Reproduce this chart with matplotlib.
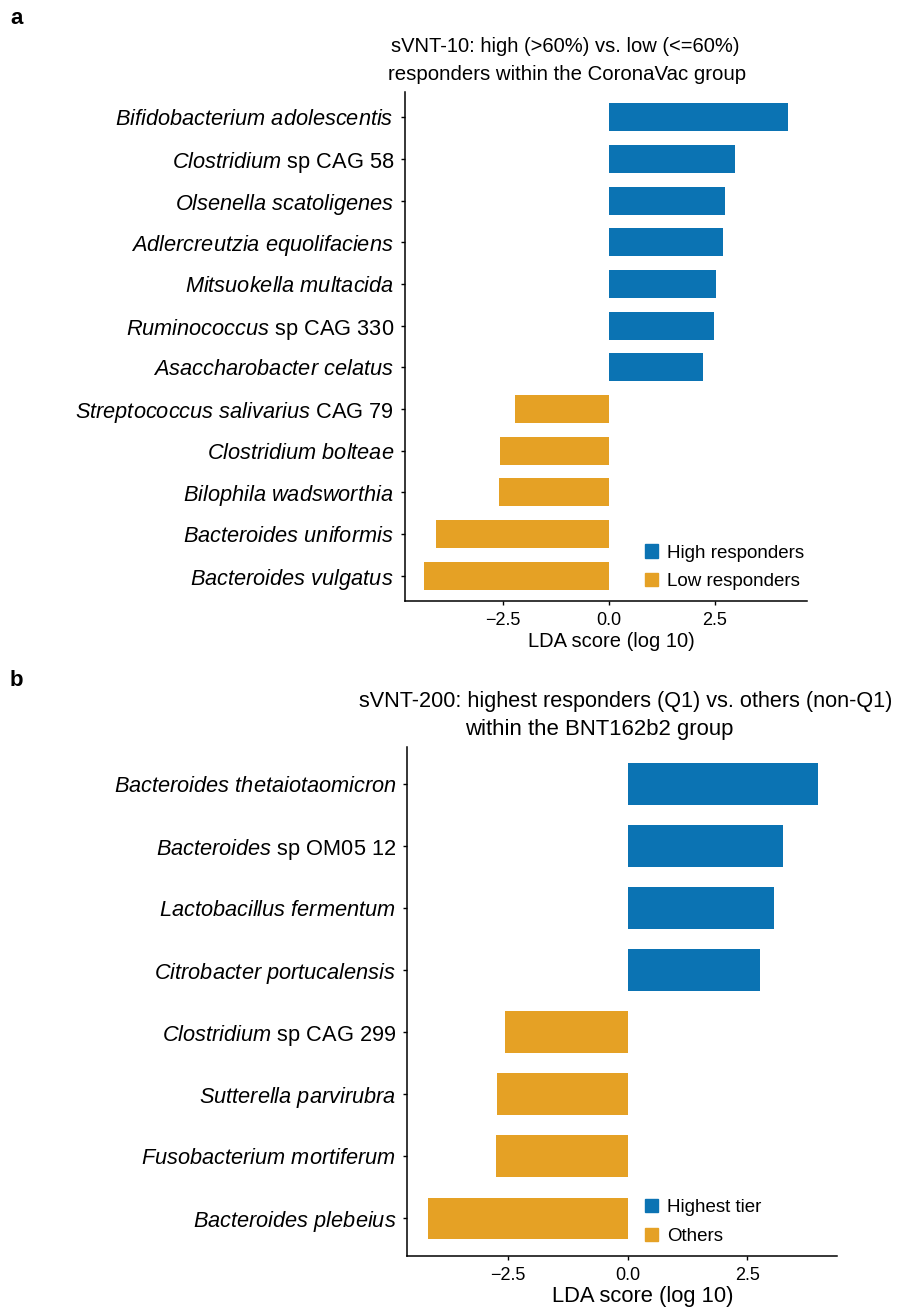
import numpy as np
import matplotlib
matplotlib.use("Agg")
import matplotlib.pyplot as plt
from matplotlib.patches import Patch

plt.rcParams['font.family'] = ['Liberation Sans', 'DejaVu Sans']
plt.rcParams['mathtext.fontset'] = 'custom'
plt.rcParams['mathtext.rm'] = 'Liberation Sans'
plt.rcParams['mathtext.it'] = 'Liberation Sans:italic'

blue = '#0B73B3'
orange = '#E5A125'

# panel a: sVNT-10, CoronaVac
genus_a = ["Bifidobacterium adolescentis", "Clostridium", "Olsenella scatoligenes",
           "Adlercreutzia equolifaciens", "Mitsuokella multacida", "Ruminococcus",
           "Asaccharobacter celatus", "Streptococcus salivarius", "Clostridium bolteae",
           "Bilophila wadsworthia", "Bacteroides uniformis", "Bacteroides vulgatus"]
suffix_a = ["", "sp CAG 58", "", "", "", "sp CAG 330", "", "CAG 79", "", "", "", ""]
lda_a = [4.23, 2.97, 2.75, 2.70, 2.53, 2.48, 2.21, -2.22, -2.57, -2.61, -4.09, -4.37]
legend_a = ["High responders", "Low responders"]

# panel b: sVNT-200, BNT162b2
genus_b = ["Bacteroides thetaiotaomicron", "Bacteroides", "Lactobacillus fermentum",
           "Citrobacter portucalensis", "Clostridium", "Sutterella parvirubra",
           "Fusobacterium mortiferum", "Bacteroides plebeius"]
suffix_b = ["", "sp OM05 12", "", "", "sp CAG 299", "", "", ""]
lda_b = [3.97, 3.25, 3.06, 2.77, -2.57, -2.73, -2.76, -4.17]
legend_b = ["Highest tier", "Others"]

ticks = [-2.5, 0.0, 2.5]


def make_label(genus, suffix):
    it = genus.replace(" ", r"\ ")
    lab = r"$\mathit{" + it + "}$"
    if suffix:
        lab += " " + suffix
    return lab


def draw_panel(ax, genus, suffix, vals, leg_labels, xlim, leg_x):
    y = np.arange(len(vals))
    cols = [blue if v > 0 else orange for v in vals]
    ax.barh(y, vals, height=0.67, color=cols, edgecolor='none')
    ax.set_ylim(len(vals) - 1 + 0.6, -0.6)
    ax.set_xlim(*xlim)
    ax.set_yticks(y)
    ax.set_yticklabels([make_label(g, s) for g, s in zip(genus, suffix)], fontsize=15.7)
    ax.set_xticks(ticks)
    ax.set_xticklabels(['\u22122.5', '0.0', '2.5'], fontsize=13)
    for s in ['top', 'right']:
        ax.spines[s].set_visible(False)
    for s in ['left', 'bottom']:
        ax.spines[s].set_linewidth(1.1)
    ax.tick_params(axis='both', length=3, width=1, color='black', pad=5)
    handles = [Patch(color=blue), Patch(color=orange)]
    ax.legend(handles, leg_labels, loc='lower left', bbox_to_anchor=(leg_x, 0.021),
              frameon=False, fontsize=13.5, handlelength=0.7, handleheight=0.7,
              handletextpad=0.5, labelspacing=0.6, borderpad=0, borderaxespad=0)


fig = plt.figure(figsize=(8.97, 13.07), dpi=100)

ax_a = fig.add_axes([0.4515, 0.5405, 0.4478, 0.3889])
draw_panel(ax_a, genus_a, suffix_a, lda_a, legend_a, (-4.82, 4.67), 0.597)
ax_a.set_xlabel('LDA score (log 10)', fontsize=14.5)
ax_a.xaxis.set_label_coords(0.513, -0.062)

ax_b = fig.add_axes([0.4541, 0.0394, 0.4787, 0.3891])
draw_panel(ax_b, genus_b, suffix_b, lda_b, legend_b, (-4.61, 4.37), 0.553)
ax_b.set_xlabel('LDA score (log 10)', fontsize=15.8)
ax_b.xaxis.set_label_coords(0.549, -0.060)

fig.text(0.630, 1 - 47 / 1307, 'sVNT-10: high (>60%) vs. low (<=60%)',
         ha='center', va='center', fontsize=14.5)
fig.text(0.632, 1 - 74 / 1307, 'responders within the CoronaVac group',
         ha='center', va='center', fontsize=14.7)
fig.text(0.698, 1 - 702 / 1307, 'sVNT-200: highest responders (Q1) vs. others (non-Q1)',
         ha='center', va='center', fontsize=15.6)
fig.text(0.668, 1 - 729 / 1307, 'within the BNT162b2 group',
         ha='center', va='center', fontsize=15.9)

fig.text(10 / 897, 1 - 18 / 1307, 'a', fontsize=16, fontweight='bold', va='center')
fig.text(10 / 897, 1 - 680 / 1307, 'b', fontsize=16, fontweight='bold', va='center')

fig.savefig('out.png', dpi=100)
